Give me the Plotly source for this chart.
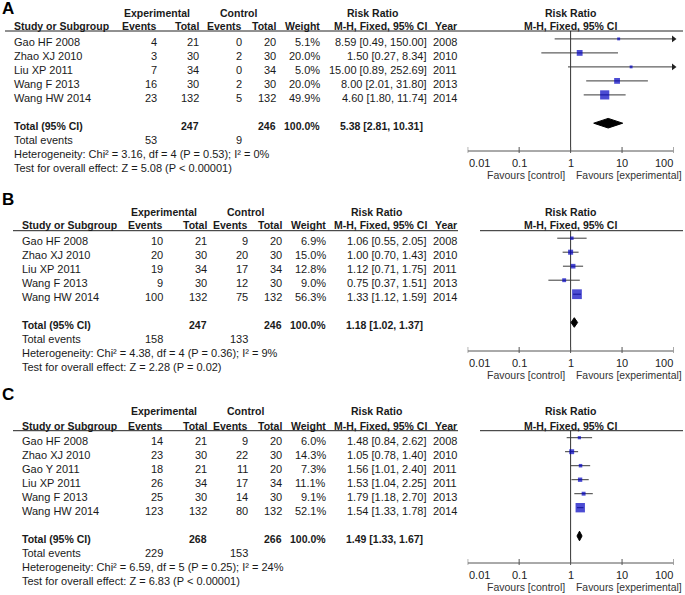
import plotly.graph_objects as go
import math

W, H = 685, 595
FONT = "Liberation Sans, Arial, sans-serif"
TXT = "#1a1a1a"

# ---------------- data ----------------
studies_A = ["Gao HF 2008", "Zhao XJ 2010", "Liu XP 2011", "Wang F 2013", "Wang HW 2014"]
exp_events_A = [4, 3, 7, 16, 23]
exp_total_A = [21, 30, 34, 30, 132]
ctrl_events_A = [0, 2, 0, 2, 5]
ctrl_total_A = [20, 30, 34, 30, 132]
weight_A = [5.1, 20.0, 5.0, 20.0, 49.9]
rr_A = [8.59, 1.50, 15.00, 8.00, 4.60]
lo_A = [0.49, 0.27, 0.89, 2.01, 1.80]
hi_A = [150.00, 8.34, 252.69, 31.80, 11.74]
year_A = [2008, 2010, 2011, 2013, 2014]
total_A = dict(et=247, ct=246, rr=5.38, lo=2.81, hi=10.31, ee=53, ce=9,
               het="Heterogeneity: Chi² = 3.16, df = 4 (P = 0.53); I² = 0%",
               test="Test for overall effect: Z = 5.08 (P < 0.00001)")

studies_B = ["Gao HF 2008", "Zhao XJ 2010", "Liu XP 2011", "Wang F 2013", "Wang HW 2014"]
exp_events_B = [10, 20, 19, 9, 100]
exp_total_B = [21, 30, 34, 30, 132]
ctrl_events_B = [9, 20, 17, 12, 75]
ctrl_total_B = [20, 30, 34, 30, 132]
weight_B = [6.9, 15.0, 12.8, 9.0, 56.3]
rr_B = [1.06, 1.00, 1.12, 0.75, 1.33]
lo_B = [0.55, 0.70, 0.71, 0.37, 1.12]
hi_B = [2.05, 1.43, 1.75, 1.51, 1.59]
year_B = [2008, 2010, 2011, 2013, 2014]
total_B = dict(et=247, ct=246, rr=1.18, lo=1.02, hi=1.37, ee=158, ce=133,
               het="Heterogeneity: Chi² = 4.38, df = 4 (P = 0.36); I² = 9%",
               test="Test for overall effect: Z = 2.28 (P = 0.02)")

studies_C = ["Gao HF 2008", "Zhao XJ 2010", "Gao Y 2011", "Liu XP 2011", "Wang F 2013", "Wang HW 2014"]
exp_events_C = [14, 23, 18, 26, 25, 123]
exp_total_C = [21, 30, 21, 34, 30, 132]
ctrl_events_C = [9, 22, 11, 17, 14, 80]
ctrl_total_C = [20, 30, 20, 34, 30, 132]
weight_C = [6.0, 14.3, 7.3, 11.1, 9.1, 52.1]
rr_C = [1.48, 1.05, 1.56, 1.53, 1.79, 1.54]
lo_C = [0.84, 0.78, 1.01, 1.04, 1.18, 1.33]
hi_C = [2.62, 1.40, 2.40, 2.25, 2.70, 1.78]
year_C = [2008, 2010, 2011, 2011, 2013, 2014]
total_C = dict(et=268, ct=266, rr=1.49, lo=1.33, hi=1.67, ee=229, ce=153,
               het="Heterogeneity: Chi² = 6.59, df = 5 (P = 0.25); I² = 24%",
               test="Test for overall effect: Z = 6.83 (P < 0.00001)")

tick_vals = [0.01, 0.1, 1, 10, 100]
tick_text = ["0.01", "0.1", "1", "10", "100"]
AX_MIN, AX_MAX = 0.01, 100

# ---------------- layout geometry (pixels) ----------------
colsA = dict(study=13, ee=158, et=199.5, ce=242.5, ct=276.5, w=320.5, ci=428, yr=457.5,
             exp_hdr=157, ctl_hdr=238, rr_hdr=372, line_x0=5, gap=False)
colsB = dict(study=20.7, ee=163.5, et=207.5, ce=248.5, ct=283, w=326.5, ci=428, yr=457.5,
             exp_hdr=163.5, ctl_hdr=245, rr_hdr=376, line_x0=13, gap=True)

panels = [
    dict(letter="A", studies=studies_A, ee=exp_events_A, et=exp_total_A, ce=ctrl_events_A,
         ct=ctrl_total_A, w=weight_A, rr=rr_A, lo=lo_A, hi=hi_A, yr=year_A, tot=total_A,
         cols=colsA, letter_y=8.5, hdr1=12.7, hdr2=26, line_y=31, row0=41.7, axis_y=151),
    dict(letter="B", studies=studies_B, ee=exp_events_B, et=exp_total_B, ce=ctrl_events_B,
         ct=ctrl_total_B, w=weight_B, rr=rr_B, lo=lo_B, hi=hi_B, yr=year_B, tot=total_B,
         cols=colsB, letter_y=199, hdr1=211.7, hdr2=225, line_y=230.7, row0=241, axis_y=351),
    dict(letter="C", studies=studies_C, ee=exp_events_C, et=exp_total_C, ce=ctrl_events_C,
         ct=ctrl_total_C, w=weight_C, rr=rr_C, lo=lo_C, hi=hi_C, yr=year_C, tot=total_C,
         cols=colsB, letter_y=394, hdr1=411, hdr2=425.7, line_y=430.7, row0=440.5, axis_y=563),
]
ROW = 14
MK_OFF = -2.8
PLOT_X0, PLOT_X1 = 467.7, 673.5
PLOT_CX = 570

annotations = []
shapes = []
fig = go.Figure()


def T(x, y, s, anchor="left", bold=False, size=11, color=TXT, xref="x"):
    annotations.append(dict(
        x=x, y=y, xref=xref, yref="y", text=f"<b>{s}</b>" if bold else s,
        showarrow=False, xanchor=anchor, yanchor="middle", borderpad=0,
        font=dict(family=FONT, size=size, color=color)))


def HL(x0, x1, y, color="#222", width=1):
    shapes.append(dict(type="line", xref="x", yref="y", x0=x0, x1=x1, y0=y, y1=y,
                       line=dict(color=color, width=width)))


for k, p in enumerate(panels):
    c = p["cols"]
    ax = f"x{k + 2}"
    axl = f"xaxis{k + 2}"
    n = len(p["studies"])
    BS = 10.5

    # headers
    T(0.5, p["letter_y"], p["letter"], "left", True, 17, "#000")
    T(c["exp_hdr"], p["hdr1"], "Experimental", "center", True, BS)
    T(c["ctl_hdr"], p["hdr1"], "Control", "center", True, BS)
    T(c["rr_hdr"], p["hdr1"], "Risk Ratio", "center", True, BS)
    T(PLOT_CX, p["hdr1"], "Risk Ratio", "center", True, BS)
    T(c["study"], p["hdr2"], "Study or Subgroup", "left", True, BS)
    T(c["ee"], p["hdr2"], "Events", "right", True, BS)
    T(c["et"], p["hdr2"], "Total", "right", True, BS)
    T(c["ce"], p["hdr2"], "Events", "right", True, BS)
    T(c["ct"], p["hdr2"], "Total", "right", True, BS)
    T(c["w"], p["hdr2"], "Weight", "right", True, BS)
    T(c["ci"], p["hdr2"], "M-H, Fixed, 95% CI", "right", True, BS)
    T(c["yr"], p["hdr2"], "Year", "right", True, BS)
    T(PLOT_CX, p["hdr2"], "M-H, Fixed, 95% CI", "center", True, BS)

    if c["gap"]:
        HL(c["line_x0"], 458, p["line_y"])
        HL(480, 683, p["line_y"])
    else:
        HL(c["line_x0"], 683, p["line_y"])

    # study rows
    rows_y = [p["row0"] + i * ROW for i in range(n)]
    for i in range(n):
        y = rows_y[i]
        T(c["study"], y, p["studies"][i])
        T(c["ee"], y, str(p["ee"][i]), "right")
        T(c["et"], y, str(p["et"][i]), "right")
        T(c["ce"], y, str(p["ce"][i]), "right")
        T(c["ct"], y, str(p["ct"][i]), "right")
        T(c["w"], y, f"{p['w'][i]:.1f}%", "right")
        T(c["ci"], y, f"{p['rr'][i]:.2f} [{p['lo'][i]:.2f}, {p['hi'][i]:.2f}]", "right")
        T(c["yr"], y, str(p["yr"][i]), "right")

    t = p["tot"]
    y_tot = p["row0"] + (n + 1) * ROW
    T(c["study"], y_tot, "Total (95% CI)", "left", True, BS)
    T(c["et"], y_tot, str(t["et"]), "right", True, BS)
    T(c["ct"], y_tot, str(t["ct"]), "right", True, BS)
    T(c["w"], y_tot, "100.0%", "right", True, BS)
    T(c["ci"] - 4, y_tot, f"{t['rr']:.2f} [{t['lo']:.2f}, {t['hi']:.2f}]", "right", True, BS)
    T(c["study"], y_tot + ROW, "Total events")
    T(c["ee"], y_tot + ROW, str(t["ee"]), "right")
    T(c["ce"], y_tot + ROW, str(t["ce"]), "right")
    T(c["study"], y_tot + 2 * ROW, t["het"])
    T(c["study"], y_tot + 3 * ROW, t["test"])

    # ---------- forest plot ----------
    ay = p["axis_y"]
    fig.add_trace(go.Scatter(x=[1, 1], y=[p["line_y"], ay], mode="lines", xaxis=ax, yaxis="y",
                             line=dict(color="#333", width=1), hoverinfo="skip", showlegend=False))
    fig.add_trace(go.Scatter(x=[AX_MIN, AX_MAX], y=[ay, ay], mode="lines", xaxis=ax, yaxis="y",
                             line=dict(color="#555", width=1), hoverinfo="skip", showlegend=False))
    tx, ty = [], []
    for v in tick_vals:
        tx += [v, v, None]
        ty += [ay - 4, ay + 2, None]
    fig.add_trace(go.Scatter(x=tx, y=ty, mode="lines", xaxis=ax, yaxis="y",
                             line=dict(color="#555", width=1), hoverinfo="skip", showlegend=False))
    # tick labels placed on the log axis (annotation x in log10 units); end labels kept inside
    for j, (v, s) in enumerate(zip(tick_vals, tick_text)):
        anc = "left" if j == 0 else ("right" if j == len(tick_vals) - 1 else "center")
        T(math.log10(v), ay + 12.3, s, anc, False, 11, "#222", xref=ax)

    lx, ly, arx, ary = [], [], [], []
    for i in range(n):
        ym = rows_y[i] + MK_OFF
        lo = max(p["lo"][i], AX_MIN)
        hi = min(p["hi"][i], AX_MAX)
        lx += [lo, hi, None]
        ly += [ym, ym, None]
        if p["hi"][i] > AX_MAX:
            arx.append(AX_MAX)
            ary.append(ym)
    fig.add_trace(go.Scatter(x=lx, y=ly, mode="lines", xaxis=ax, yaxis="y",
                             line=dict(color="#3a3a3a", width=1), hoverinfo="skip",
                             showlegend=False))
    if arx:
        fig.add_trace(go.Scatter(x=arx, y=ary, mode="markers", xaxis=ax, yaxis="y",
                                 marker=dict(symbol="triangle-right", size=6, color="#222"),
                                 cliponaxis=False, hoverinfo="skip", showlegend=False))
    fig.add_trace(go.Scatter(
        x=p["rr"], y=[yy + MK_OFF for yy in rows_y], mode="markers", xaxis=ax, yaxis="y",
        marker=dict(symbol="square", size=[1.3 * math.sqrt(w) for w in p["w"]],
                    color="#0000c0", line=dict(width=0)),
        cliponaxis=False, hoverinfo="skip", showlegend=False))
    dy = y_tot - 2.5
    fig.add_trace(go.Scatter(
        x=[t["lo"], t["rr"], t["hi"], t["rr"], t["lo"]],
        y=[dy, dy - 4.8, dy, dy + 4.8, dy], mode="lines", fill="toself",
        fillcolor="#000", line=dict(color="#000", width=1), xaxis=ax, yaxis="y",
        hoverinfo="skip", showlegend=False))

    T(566, ay + 24, "Favours [control]", "right", False, 10.5, "#333")
    T(575, ay + 24, "Favours [experimental]", "left", False, 10.4, "#333")

    fig.update_layout(**{axl: dict(
        type="log", range=[math.log10(AX_MIN), math.log10(AX_MAX)],
        domain=[PLOT_X0 / W, PLOT_X1 / W], anchor="free", position=1 - ay / H,
        showticklabels=False, ticks="", showline=False,
        showgrid=False, zeroline=False, fixedrange=True)})

fig.update_layout(
    width=W, height=H, margin=dict(l=0, r=0, t=0, b=0),
    paper_bgcolor="white", plot_bgcolor="rgba(0,0,0,0)",
    xaxis=dict(range=[0, W], domain=[0, 1], visible=False, fixedrange=True),
    yaxis=dict(range=[H, 0], domain=[0, 1], visible=False, fixedrange=True),
    annotations=annotations, shapes=shapes, showlegend=False,
)

fig.write_html("out.html", config={"displayModeBar": False},
               post_script="document.body.style.margin='0';document.body.style.padding='0';")
